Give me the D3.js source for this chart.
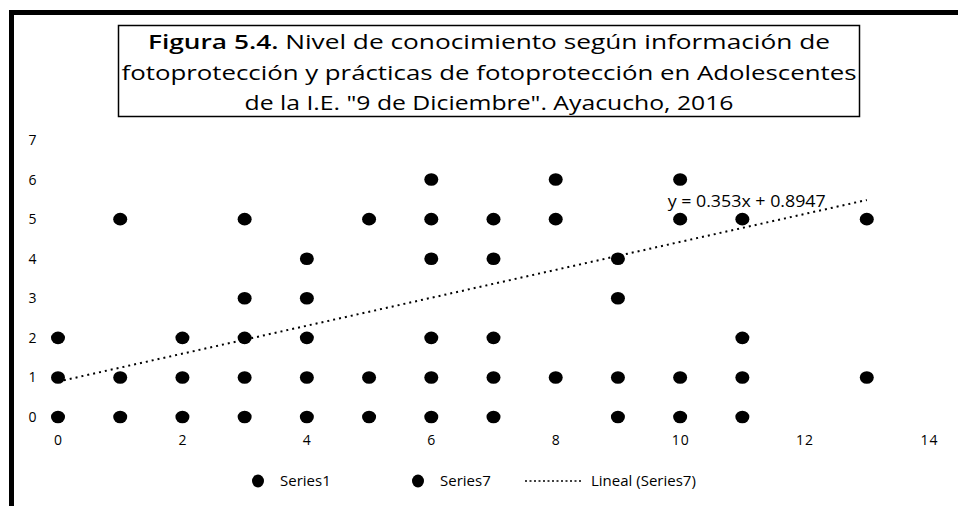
<!DOCTYPE html>
<html>
<head>
<meta charset="utf-8">
<script src="https://cdn.jsdelivr.net/npm/d3@7"></script>
<style>
  body { margin: 0; background: #fff; }
  svg { display: block; font-family: "Open Sans", "DejaVu Sans", sans-serif; }
</style>
</head>
<body>
<div id="chart"></div>
<script>
// Data
const titleLead = "Figura 5.4.";
const titleLines = [
  " Nivel de conocimiento según información de",
  "fotoprotección y prácticas de fotoprotección en Adolescentes",
  "de la I.E. \"9 de Diciembre\". Ayacucho, 2016"
];
const xTicks = [0, 2, 4, 6, 8, 10, 12, 14];
const yTicks = [0, 1, 2, 3, 4, 5, 6, 7];
const pointsX = [0, 0, 0, 1, 1, 1, 2, 2, 2, 3, 3, 3, 3, 3, 4, 4, 4, 4, 4, 5, 5, 5,
  6, 6, 6, 6, 6, 6, 7, 7, 7, 7, 7, 8, 8, 8, 9, 9, 9, 9, 10, 10, 10, 10, 11, 11, 11, 11, 13, 13];
const pointsY = [0, 1, 2, 0, 1, 5, 0, 1, 2, 0, 1, 2, 3, 5, 0, 1, 2, 3, 4, 0, 1, 5,
  0, 1, 2, 4, 5, 6, 0, 1, 2, 4, 5, 1, 5, 6, 0, 1, 3, 4, 0, 1, 5, 6, 0, 1, 2, 5, 1, 5];
const trendSlope = 0.353;
const trendIntercept = 0.8947;
const trendRange = [0, 13];
const legendItems = ["Series1", "Series7", "Lineal (Series7)"];

const width = 958, height = 506;

const svg = d3.select("#chart").append("svg")
  .attr("width", width)
  .attr("height", height);

svg.append("rect").attr("width", width).attr("height", height).attr("fill", "#fff");

// frame lines (left + top) from the scanned page
svg.append("path")
  .attr("d", "M11.5,506 V12.5 H958")
  .attr("fill", "none")
  .attr("stroke", "#000")
  .attr("stroke-width", 5);

// scales
const x = d3.scaleLinear().domain([0, 14]).range([58, 929]);
const y = d3.scaleLinear().domain([0, 7]).range([417, 140]);

// title box
svg.append("rect")
  .attr("x", 118.5).attr("y", 25.5)
  .attr("width", 741).attr("height", 91)
  .attr("fill", "#fff")
  .attr("stroke", "#000")
  .attr("stroke-width", 1.5);

// the scan is stretched sideways, so each title line is fitted to its width
const titleWidths = [682, 735, 489];
const titleText = svg.append("g")
  .selectAll("text")
  .data(titleLines)
  .join("text")
  .attr("x", 489)
  .attr("y", (d, i) => 49 + i * 30.5)
  .attr("text-anchor", "middle")
  .attr("textLength", (d, i) => titleWidths[i])
  .attr("lengthAdjust", "spacingAndGlyphs")
  .style("font-size", "20px")
  .attr("fill", "#000");
titleText.filter((d, i) => i === 0)
  .append("tspan").style("font-weight", "600").text(titleLead);
titleText.append("tspan").text(d => d);

// axes (labels only)
const xAxis = svg.append("g")
  .attr("transform", `translate(0,${y(0)})`)
  .call(d3.axisBottom(x).tickValues(xTicks).tickSize(0).tickPadding(18));
const yAxis = svg.append("g")
  .attr("transform", `translate(${x(0) - 20},0)`)
  .call(d3.axisLeft(y).tickValues(yTicks).tickFormat(d3.format("d")).tickSize(0).tickPadding(0));
[xAxis, yAxis].forEach(a => {
  a.select(".domain").remove();
  a.selectAll("text")
    .attr("fill", "#000")
    .style("font-size", "14px")
    .style("letter-spacing", "1px")
    .style("font-family", "\"Open Sans\", \"DejaVu Sans\", sans-serif");
});
yAxis.selectAll("text").attr("text-anchor", "middle").attr("x", -5);

// points
const points = pointsX.map((d, i) => ({ x: d, y: pointsY[i] }));
svg.append("g")
  .selectAll("ellipse")
  .data(points)
  .join("ellipse")
  .attr("cx", d => x(d.x))
  .attr("cy", d => y(d.y))
  .attr("rx", 7)
  .attr("ry", 6.3)
  .attr("fill", "#000");

// trend line
const trend = trendRange.map(v => ({ x: v, y: trendSlope * v + trendIntercept }));
svg.append("path")
  .datum(trend)
  .attr("fill", "none")
  .attr("stroke", "#000")
  .attr("stroke-width", 2)
  .attr("stroke-dasharray", "2,4")
  .attr("d", d3.line().x(d => x(d.x)).y(d => y(d.y)));

svg.append("text")
  .attr("x", x(9.8))
  .attr("y", y(5.3))
  .attr("textLength", 158)
  .attr("lengthAdjust", "spacingAndGlyphs")
  .style("font-size", "16px")
  .attr("fill", "#000")
  .text(`y = ${trendSlope}x + ${trendIntercept}`);

// legend
const legend = svg.append("g").attr("transform", "translate(0,481)");
const legendX = [258, 418, 525];
legendItems.forEach((name, i) => {
  const lg = legend.append("g").attr("transform", `translate(${legendX[i]},0)`);
  if (i < 2) {
    lg.append("ellipse").attr("rx", 6).attr("ry", 6.5).attr("fill", "#000");
    lg.append("text").attr("x", 22).attr("dy", "0.35em")
      .style("font-size", "15px").attr("fill", "#000").text(name);
  } else {
    lg.append("line").attr("x1", 0).attr("x2", 58)
      .attr("stroke", "#000").attr("stroke-width", 1.5).attr("stroke-dasharray", "2,2.5");
    lg.append("text").attr("x", 66).attr("dy", "0.35em")
      .style("font-size", "15px").attr("fill", "#000").text(name);
  }
});
</script>
</body>
</html>
